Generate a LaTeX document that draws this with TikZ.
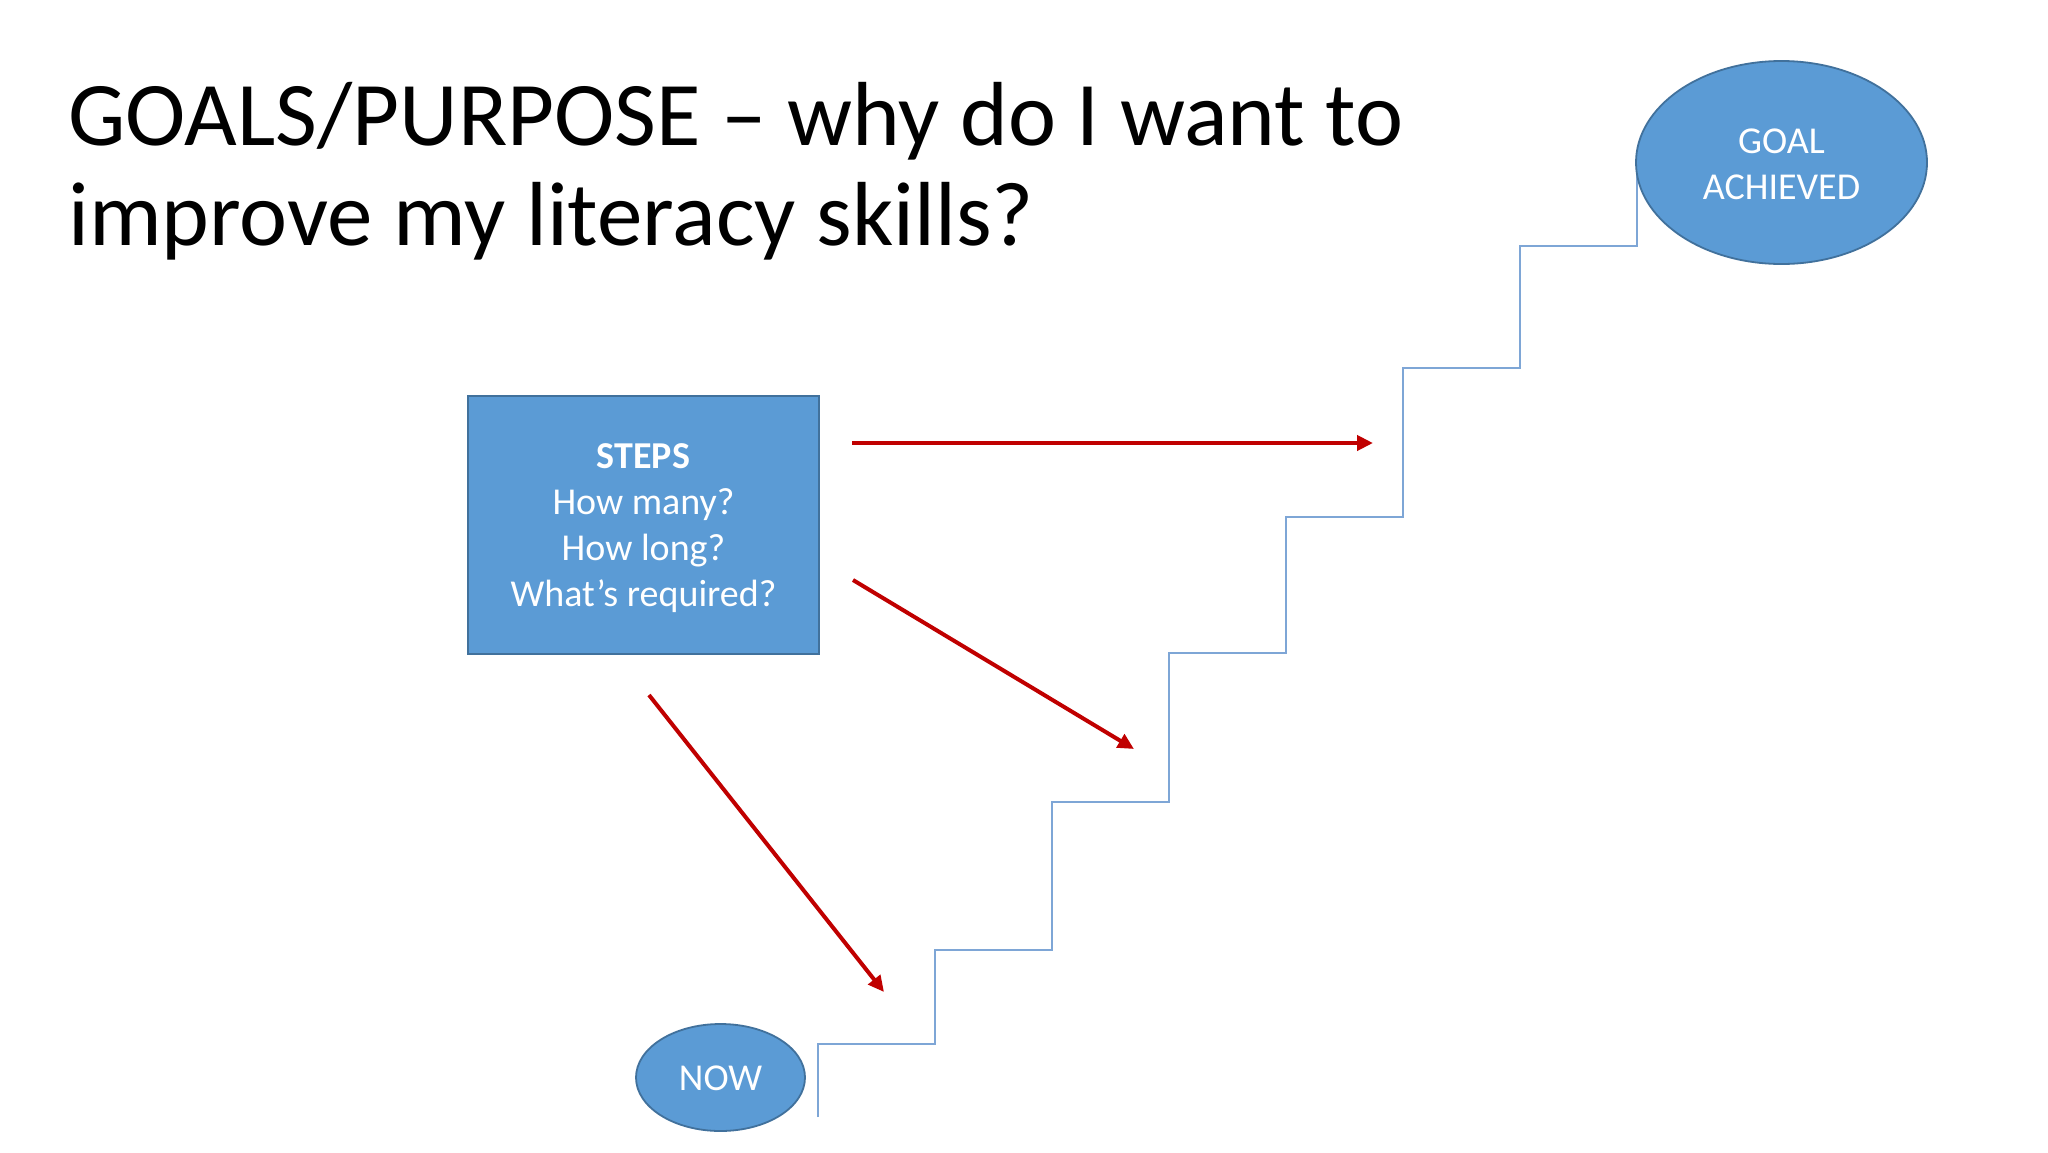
\documentclass[tikz,border=0pt]{standalone}
\usepackage{fontspec}
\setmainfont{Carlito}
\usetikzlibrary{shapes.geometric,arrows.meta}
\definecolor{boxblue}{HTML}{5B9BD5}
\definecolor{boxedge}{HTML}{41719C}
\definecolor{stairblue}{HTML}{7EA6D6}
\definecolor{arrowred}{HTML}{C00000}
\newcommand{\lowerby}[2]{\raisebox{-#1}[\height][\depth]{#2}}
\tikzset{
  bluefill/.style={fill=boxblue, draw=boxedge, line width=1.8pt, text=white, inner sep=0pt,
    font=\fontsize{38pt}{46pt}\selectfont, align=center},
  goalshape/.style={bluefill, ellipse},
  stepsbox/.style={bluefill, rectangle},
  redarrow/.style={draw=arrowred, line width=4pt, -{Triangle[length=16pt,width=15pt]}},
  stairline/.style={draw=stairblue, line width=2pt},
}
\begin{document}
\begin{tikzpicture}[x=1pt,y=-1pt]
\useasboundingbox[fill=white] (0,0) rectangle (2048,1152);
% title (base anchor = baseline of last line)
\node[anchor=base west, inner sep=0pt, align=left, font=\fontsize{91pt}{100pt}\selectfont] (title) at (68,245)
  {GOALS/PURPOSE -- why do I want to\\improve my literacy skills?};
% staircase
\coordinate (s0) at (818,1117);
\draw[stairline] (s0) |- (935,1044) |- (1052,950) |- (1169,802) |- (1286,653) |- (1403,517) |- (1520,368) |- (1637,246) -- (1637,170) coordinate (s1);
% nodes
\node[goalshape, minimum width=291pt, minimum height=203pt] (goal) at (1781.5,162.5) {\lowerby{2pt}{GOAL}\\\lowerby{2pt}{ACHIEVED}};
\node[goalshape, minimum width=169pt, minimum height=107pt] (now) at (720.5,1077.5) {\lowerby{1pt}{NOW}};
\node[stepsbox, minimum width=351pt, minimum height=258pt] (steps) at (643.5,525) {\lowerby{3pt}{\textbf{STEPS}}\\\lowerby{3pt}{How many?}\\\lowerby{3pt}{How long?}\\\lowerby{3pt}{What’s required?}};
% arrows
\coordinate (a1s) at (852,443);
\coordinate (a1e) at (1373,443);
\coordinate (a2s) at (853,580);
\coordinate (a2e) at (1134,749);
\coordinate (a3s) at (649,695);
\coordinate (a3e) at (884,992);
\draw[redarrow] (a1s) -- (a1e);
\draw[redarrow] (a2s) -- (a2e);
\draw[redarrow] (a3s) -- (a3e);
\end{tikzpicture}
\end{document}
